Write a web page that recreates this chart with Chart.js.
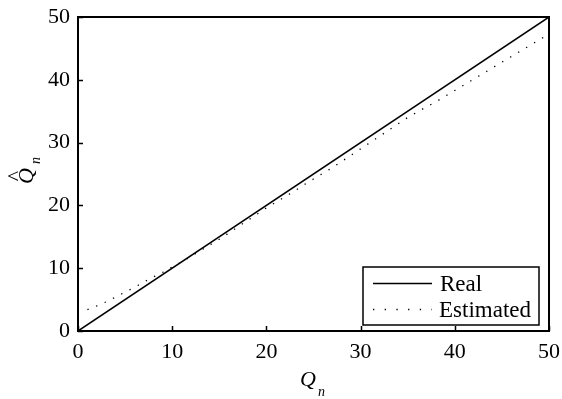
<!DOCTYPE html>
<html>
<head>
<meta charset="utf-8">
<script src="https://cdn.jsdelivr.net/npm/chart.js@4.4.1/dist/chart.umd.min.js"></script>
<style>
  html, body { margin: 0; padding: 0; background: #fff; }
  #wrap { width: 562px; height: 399px; }
</style>
</head>
<body>
<div id="wrap"><canvas id="c" width="562" height="399"></canvas></div>
<script>
// ---- data ----
const realX = [0, 50];
const realY = [0, 50];
const estX = [1,2,3,4,5,6,7,8,9,10,11,12,13,14,15,16,17,18,19,20,21,22,23,24,25,26,27,28,29,30,31,32,33,34,35,36,37,38,39,40,41,42,43,44,45,46,47,48,49,50];
const estY = [3.4,4.0,4.65,5.4,6.2,6.95,7.8,8.6,9.35,10.2,11.0,11.9,12.8,13.7,14.6,15.6,16.6,17.6,18.6,19.6,20.5,21.4,22.3,23.3,24.2,25.1,26.0,27.0,28.0,29.0,30.0,31.0,32.0,33.0,34.0,34.85,35.7,36.5,37.4,38.3,39.2,40.1,41.0,41.9,42.8,43.7,44.6,45.5,46.4,47.3];
const xTicks = [0, 10, 20, 30, 40, 50];
const yTicks = [0, 10, 20, 30, 40, 50];
const seriesLabels = ['Real', 'Estimated'];

const FONT = '"Liberation Serif", "Times New Roman", serif';

const framePlugin = {
  id: 'frame',
  afterDraw(chart) {
    const ctx = chart.ctx;
    const a = chart.chartArea;
    const xs = chart.scales.x, ys = chart.scales.y;
    ctx.save();
    ctx.strokeStyle = '#000';
    ctx.lineWidth = 2;
    ctx.strokeRect(a.left, a.top, a.right - a.left, a.bottom - a.top);
    ctx.lineWidth = 1.5;
    ctx.beginPath();
    xTicks.forEach(v => {
      const px = Math.round(xs.getPixelForValue(v)) + 0.5;
      ctx.moveTo(px, a.bottom); ctx.lineTo(px, a.bottom - 5);
    });
    yTicks.forEach(v => {
      const py = Math.round(ys.getPixelForValue(v)) + 0.5;
      ctx.moveTo(a.left, py); ctx.lineTo(a.left + 5, py);
    });
    ctx.stroke();

    // legend
    const lx = 363, ly = 267, lw = 176, lh = 58;
    ctx.fillStyle = '#fff';
    ctx.fillRect(lx, ly, lw, lh);
    ctx.lineWidth = 1.5;
    ctx.strokeRect(lx, ly, lw, lh);
    ctx.fillStyle = '#000';
    ctx.font = '23px ' + FONT;
    ctx.textAlign = 'left';
    ctx.textBaseline = 'alphabetic';
    ctx.lineWidth = 1.3;
    ctx.setLineDash([]);
    ctx.beginPath(); ctx.moveTo(373, 283.5); ctx.lineTo(432, 283.5); ctx.stroke();
    ctx.fillText(seriesLabels[0], 440, 291);
    ctx.lineWidth = 1.3;
    ctx.setLineDash([1.3, 10.4]);
    ctx.beginPath(); ctx.moveTo(373, 309.5); ctx.lineTo(432, 309.5); ctx.stroke();
    ctx.setLineDash([]);
    ctx.fillText(seriesLabels[1], 439, 317);

    // x axis title: Q_n
    ctx.font = 'italic 22px ' + FONT;
    ctx.textAlign = 'center';
    ctx.fillText('Q', 308, 386);
    ctx.font = 'italic 14px ' + FONT;
    ctx.textAlign = 'left';
    ctx.fillText('n', 318, 396);

    // y axis title: Q-hat_n rotated
    ctx.translate(33, 176);
    ctx.rotate(-Math.PI / 2);
    ctx.font = 'italic 22px ' + FONT;
    ctx.textAlign = 'center';
    ctx.fillText('Q', 0, 0);
    ctx.font = '22px ' + FONT;
    ctx.fillText('^', 0, -11);
    ctx.font = 'italic 14px ' + FONT;
    ctx.textAlign = 'left';
    ctx.fillText('n', 12, 7);
    ctx.restore();
  }
};

new Chart(document.getElementById('c'), {
  type: 'scatter',
  data: {
    datasets: [
      {
        label: seriesLabels[0],
        data: realX.map((x, i) => ({ x: x, y: realY[i] })),
        showLine: true,
        borderColor: '#000',
        borderWidth: 1.5,
        pointRadius: 0,
        fill: false
      },
      {
        label: seriesLabels[1],
        data: estX.map((x, i) => ({ x: x, y: estY[i] })),
        showLine: true,
        borderColor: '#000',
        borderWidth: 1.3,
        borderDash: [1.3, 8],
        pointRadius: 0,
        fill: false,
        tension: 0
      }
    ]
  },
  options: {
    responsive: false,
    animation: false,
    devicePixelRatio: 1,
    layout: { padding: { top: 17, right: 13, left: 0, bottom: 0 } },
    plugins: { legend: { display: false }, tooltip: { enabled: false } },
    scales: {
      x: {
        type: 'linear', min: 0, max: 50,
        afterFit(s) { s.height = 68; s.paddingLeft = 0; s.paddingRight = 0; },
        afterBuildTicks(s) { s.ticks = xTicks.map(v => ({ value: v })); },
        grid: { display: false },
        border: { display: false },
        ticks: { color: '#000', font: { family: FONT, size: 22 }, padding: 0, maxRotation: 0 }
      },
      y: {
        type: 'linear', min: 0, max: 50,
        afterFit(s) { s.width = 78; s.paddingTop = 0; s.paddingBottom = 0; },
        afterBuildTicks(s) { s.ticks = yTicks.map(v => ({ value: v })); },
        grid: { display: false },
        border: { display: false },
        ticks: { color: '#000', font: { family: FONT, size: 22 }, padding: 0 }
      }
    }
  },
  plugins: [framePlugin]
});
</script>
</body>
</html>
